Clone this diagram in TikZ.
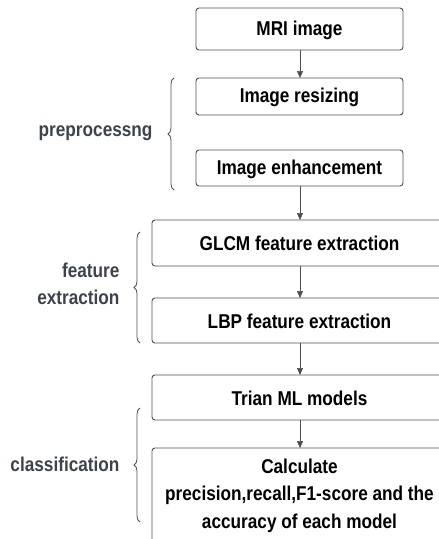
\documentclass[tikz,border=0pt]{standalone}
\usepackage{fontspec}
\setmainfont{Liberation Sans}[FakeStretch=0.86]
\usetikzlibrary{arrows.meta,decorations.pathreplacing}
\definecolor{edge}{HTML}{4A4F57}
\definecolor{lbl}{HTML}{3C434C}
\tikzset{
  stepbox/.style={draw=edge, line width=0.9pt, rounded corners=3pt},
  boxtext/.style={font=\bfseries\fontsize{20}{27.5}\selectfont, align=center, text=black},
  flow/.style={draw=edge, line width=0.7pt, -{Triangle[length=7pt,width=6pt]}},
  brace/.style={draw=edge, line width=0.8pt, decorate, decoration={brace, amplitude=6pt, mirror}},
  grp/.style={font=\bfseries\fontsize{20}{27}\selectfont, text=lbl, align=right, anchor=east},
}
\begin{document}
\begin{tikzpicture}[x=1pt,y=-1pt]
\useasboundingbox (0,0) rectangle (439,539);
\clip (0,0) rectangle (439,539);
% boxes
\draw[stepbox] (196,8) rectangle (403,50);
\node[boxtext] (mri) at (299.5,30) {MRI image};
\coordinate (mriB) at (300,50);
\draw[stepbox] (196,78) rectangle (403,115);
\node[boxtext] (res) at (299.5,97.5) {Image resizing};
\coordinate (resT) at (300,78);
\draw[stepbox] (196,150) rectangle (403,186);
\node[boxtext] (enh) at (299.5,169) {Image enhancement};
\coordinate (enhB) at (300,186);
\draw[stepbox] (152,220) rectangle (450,266);
\node[boxtext] (glcm) at (299.5,243.5) {GLCM feature extraction};
\coordinate (glcmT) at (300,220);
\coordinate (glcmB) at (300,266);
\draw[stepbox] (152,298) rectangle (450,343);
\node[boxtext] (lbp) at (299.5,321) {LBP feature extraction};
\coordinate (lbpT) at (300,298);
\coordinate (lbpB) at (300,343);
\draw[stepbox] (152,375) rectangle (450,420);
\node[boxtext] (trian) at (299.5,398) {Trian ML models};
\coordinate (trianT) at (300,375);
\coordinate (trianB) at (300,420);
\draw[stepbox] (152,448) rectangle (450,560);
\node[boxtext, anchor=north] (calc) at (299.5,455) {Calculate\\precision,recall,F1-score and the\\accuracy of each model};
\coordinate (calcT) at (300,448);
% connectors
\draw[flow] (mriB) -- (resT);
\draw[flow] (enhB) -- (glcmT);
\draw[flow] (glcmB) -- (lbpT);
\draw[flow] (lbpB) -- (trianT);
\draw[flow] (trianB) -- (calcT);
% braces
\coordinate (b1t) at (174,78);
\coordinate (b1b) at (174,190);
\draw[brace] (b1t) -- (b1b);
\node[grp] (g1) at (156,133) {preprocessng};
\coordinate (b2t) at (140,232);
\coordinate (b2b) at (140,343);
\draw[brace] (b2t) -- (b2b);
\node[grp] (g2) at (123,284) {feature\\extraction};
\coordinate (b3t) at (140,408);
\coordinate (b3b) at (140,522);
\draw[brace] (b3t) -- (b3b);
\node[grp] (g3) at (123,464) {classification};
\end{tikzpicture}
\end{document}
